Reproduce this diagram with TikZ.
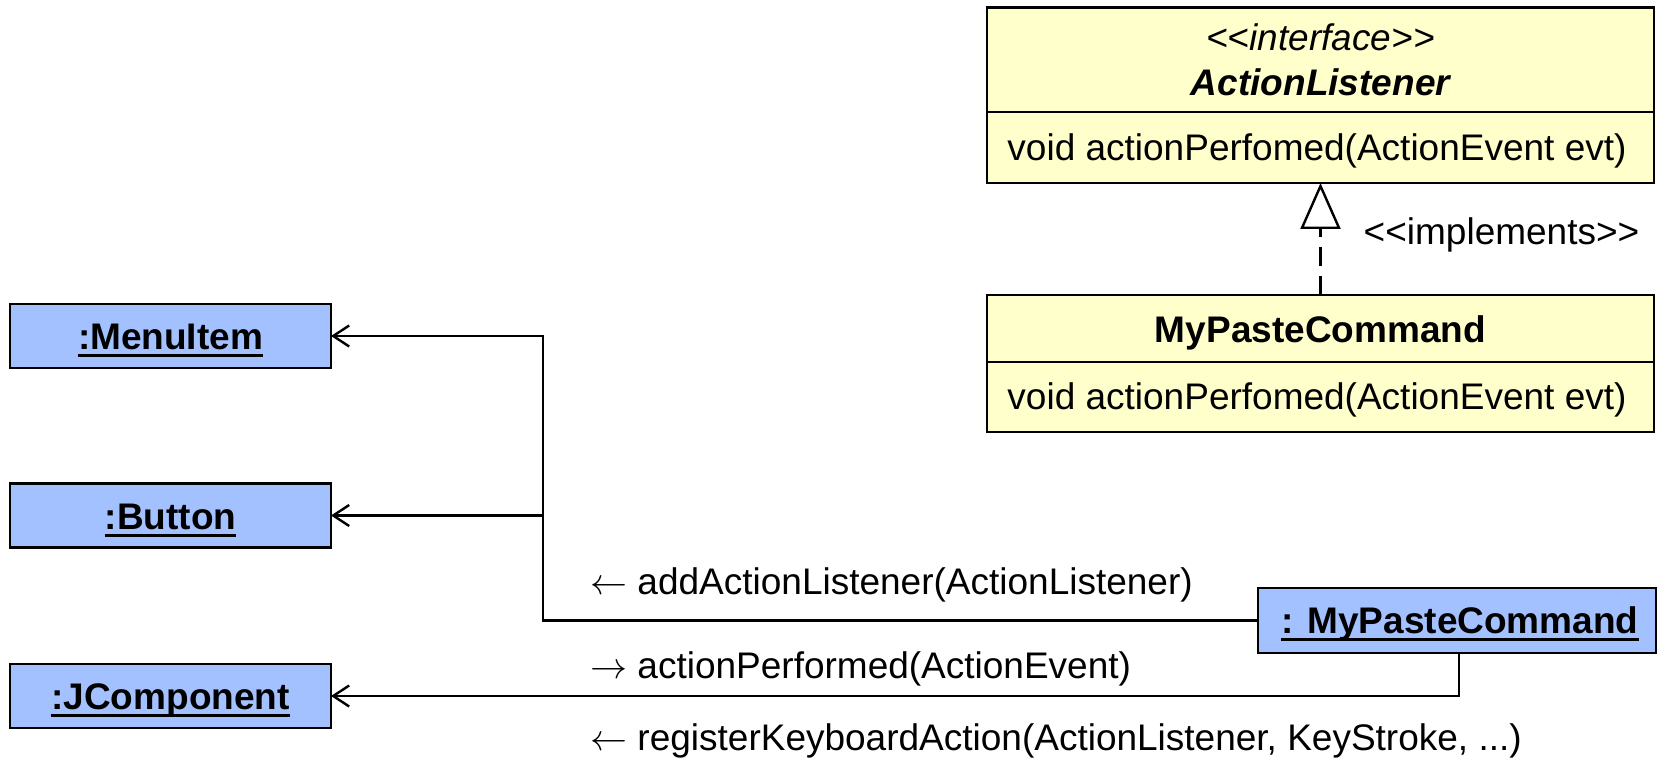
\documentclass[tikz,border=0pt]{standalone}
\usepackage{graphicx}
\usepackage{fontspec}
\setmainfont{Liberation Sans}
\usetikzlibrary{arrows.meta}
\definecolor{classfill}{RGB}{255,255,204}
\definecolor{objfill}{RGB}{163,192,255}
% object names: text with a thick rule beneath it
\newcommand\objname[1]{\setbox0=\hbox{#1}\rlap{\rule[-8pt]{\wd0}{3pt}}\box0}
% direction marks for messages, drawn at 10pt and enlarged
\newcommand\msgleft{\scalebox{3.7}{\fontsize{10}{12}\selectfont$\leftarrow$}}
\newcommand\msgright{\scalebox{3.7}{\fontsize{10}{12}\selectfont$\rightarrow$}}
% stereotype brackets, kept as plain angle signs
\newcommand\stereo[1]{<{}<#1>{}>}
\begin{document}
\begin{tikzpicture}[x=1pt,y=-1pt,
  every node/.style={font=\fontsize{37}{44}\selectfont},
  box/.style={draw, line width=2.4pt, inner sep=0pt, outer sep=0pt},
  classbox/.style={box, fill=classfill},
  objbox/.style={box, fill=objfill, minimum width=321pt, minimum height=64pt},
  txt/.style={anchor=base, inner sep=0pt},
  link/.style={line width=2.4pt},
  openhead/.style={-{Straight Barb[length=16pt,width=21pt]}},
]
\useasboundingbox[fill=white] (0,0) rectangle (1657,759);

% interface ActionListener
\node[classbox, minimum width=667pt, minimum height=175.5pt] (al) at (1320.5,95.25) {};
\draw[link] (987,112) -- (1654,112);
\node[txt] (alst) at (1320.5,51) {\itshape \stereo{interface}};
\node[txt] (alname) at (1320.5,96) {\bfseries\itshape ActionListener};
\node[txt] (almeth) at (1317,161) {void actionPerfomed(ActionEvent evt)};

% class MyPasteCommand
\node[classbox, minimum width=667pt, minimum height=137pt] (mc) at (1320.5,363.5) {};
\draw[link] (987,362) -- (1654,362);
\node[txt] (mcname) at (1320.5,342) {\bfseries MyPasteCommand};
\node[txt] (mcmeth) at (1317,409) {void actionPerfomed(ActionEvent evt)};

% realization
\draw[link, dash pattern=on 19pt off 10pt,
      -{Triangle[open, length=46pt, width=40pt, fill=white]}] (mc.north) -- (al.south);
\node[txt] (impl) at (1501.5,245) {\stereo{implements}};

% objects
\node[objbox] (menu) at (170.5,336) {};
\node[txt] (menut) at (170.5,349) {\bfseries\objname{:MenuItem}};
\node[objbox] (btn) at (170.5,515.5) {};
\node[txt] (btnt) at (170.5,529) {\bfseries\objname{:Button}};
\node[objbox] (jc) at (170.5,696) {};
\node[txt] (jct) at (170.5,709) {\bfseries\objname{:JComponent}};
\node[objbox, minimum width=398pt, minimum height=65pt] (mpc) at (1457,620.5) {};
\node[txt] (mpct) at (1460,633) {\bfseries\objname{: MyPasteCommand}};

% links
\coordinate (hub) at (543,620.5);
\draw[link, openhead] (mpc.west) -- (hub) |- (menu.east);
\draw[link, openhead] (hub |- btn.east) -- (btn.east);
\draw[link, openhead] ([xshift=2pt]mpc.south) |- (jc.east);

% messages
\node[txt, anchor=base west] (m1) at (590,594) {\msgleft\ addActionListener(ActionListener)};
\node[txt, anchor=base west] (m2) at (590,678) {\msgright\ actionPerformed(ActionEvent)};
\node[txt, anchor=base west] (m3) at (590,750) {\msgleft\ registerKeyboardAction(ActionListener, KeyStroke, ...)};
\end{tikzpicture}
\end{document}
